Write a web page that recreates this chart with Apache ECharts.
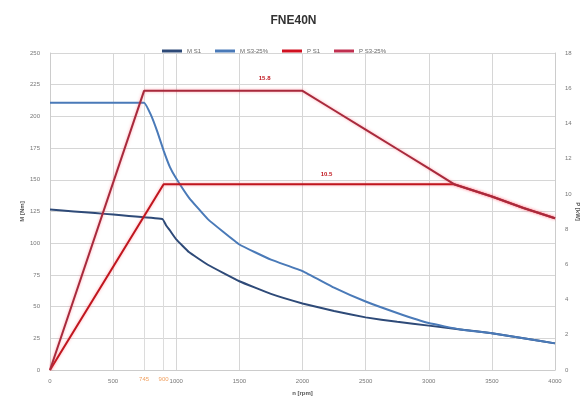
<!DOCTYPE html>
<html><head><meta charset="utf-8">
<script src="https://cdn.jsdelivr.net/npm/echarts@6/dist/echarts.min.js"></script>
<style>html,body{margin:0;padding:0;background:#fff}#c{width:587px;height:403px}</style>
</head><body><div id="c"></div>
<script>
// speeds [rpm] and values
const nMS1 = [0, 890, 920, 950, 1000, 1100, 1250, 1500, 1750, 2000, 2250, 2500, 2750, 3000, 3250, 3500, 3750, 4000];
const vMS1 = [126.5, 119, 114, 110, 103, 93, 83, 70, 60, 52.5, 46.5, 41.5, 38, 35, 32, 29, 25, 21];
const nMS3 = [0, 745, 800, 850, 900, 950, 1000, 1100, 1250, 1500, 1750, 2000, 2250, 2500, 2750, 3000, 3250, 3500, 3750, 4000];
const vMS3 = [210.8, 210.8, 201, 188, 173, 160, 151, 136, 119, 99, 87, 78, 65, 54, 45, 37, 32, 29, 25, 21];
const nPS1 = [0, 900, 3200, 3500, 3750, 4000];
const vPS1 = [0, 10.55, 10.55, 9.85, 9.2, 8.62];
const nPS3 = [0, 745, 2000, 2250, 2500, 2750, 3000, 3200, 3500, 3750, 4000];
const vPS3 = [0, 15.85, 15.85, 14.75, 13.65, 12.55, 11.45, 10.55, 9.85, 9.2, 8.62];
const cornerSpeeds = [745, 900];
const cornerLabels = ['745', '900'];
const maxTorqueLabel = '216';
const maxTorqueLevel = 210.8;
const powerLabels = [{n: 1700, p: 15.85, t: '15.8'}, {n: 2190, p: 10.55, t: '10.5'}];

const zip = (a, b) => a.map((x, i) => [x, b[i]]);
const chart = echarts.init(document.getElementById('c'));
const axisLbl = {color: '#777', fontSize: 6, fontFamily: 'Liberation Sans'};
chart.setOption({
  animation: false,
  title: {text: 'FNE40N', left: 'center', top: 10, textStyle: {fontSize: 12, fontWeight: 'bold', color: '#333', fontFamily: 'Liberation Sans'}},
  legend: {left: 157, top: 43, itemWidth: 20, itemHeight: 3, itemGap: 14, icon: 'rect',
    textStyle: {fontSize: 6, color: '#666', fontFamily: 'Liberation Sans'},
    data: ['M S1', 'M S3-25%', 'P S1', 'P S3-25%']},
  grid: {left: 50, right: 32, top: 53, bottom: 33, containLabel: false, outerBoundsMode: 'none'},
  xAxis: {type: 'value', min: 0, max: 4000, interval: 500, name: 'n [rpm]', nameLocation: 'middle', nameGap: 20,
    nameTextStyle: {fontSize: 6, color: '#555', fontWeight: 'bold'},
    axisLine: {lineStyle: {color: '#ccc'}}, axisTick: {show: false},
    axisLabel: Object.assign({margin: 8, formatter: v => String(v)}, axisLbl),
    splitLine: {lineStyle: {color: '#d6d6d6'}}},
  yAxis: [
    {type: 'value', min: 0, max: 250, interval: 25, name: 'M [Nm]', nameLocation: 'middle', nameGap: 25,
      nameMoveOverlap: false,
      nameTextStyle: {fontSize: 6, color: '#555', fontWeight: 'bold'},
      axisLine: {show: true, lineStyle: {color: '#ccc'}}, axisTick: {show: false},
      axisLabel: Object.assign({margin: 10}, axisLbl),
      splitLine: {lineStyle: {color: '#d6d6d6'}}},
    {type: 'value', min: 0, max: 18, interval: 2, name: 'P [kW]', nameLocation: 'middle', nameGap: 20,
      nameRotate: -90, nameMoveOverlap: false,
      nameTextStyle: {fontSize: 6, color: '#555', fontWeight: 'bold'},
      axisLine: {show: true, lineStyle: {color: '#ccc'}}, axisTick: {show: false},
      axisLabel: Object.assign({margin: 10}, axisLbl),
      splitLine: {show: false}}
  ],
  series: [
    {name: 'M S1', type: 'line', yAxisIndex: 0, data: zip(nMS1, vMS1), showSymbol: false, smooth: 0.1,
      lineStyle: {width: 2, color: '#2e4a78'}, itemStyle: {color: '#2e4a78'},
      markLine: {silent: true, symbol: 'none', z: 1,
        lineStyle: {color: '#dcdcdc', type: 'solid', width: 1},
        label: {show: true, position: 'start', distance: 6, color: '#f0a060', fontSize: 6,
          formatter: p => cornerLabels[cornerSpeeds.indexOf(p.value)]},
        data: cornerSpeeds.map(v => ({xAxis: v}))}},
    {name: 'M S3-25%', type: 'line', yAxisIndex: 0, data: zip(nMS3, vMS3), showSymbol: false, smooth: 0.1,
      lineStyle: {width: 2, color: '#4a7ab8'}, itemStyle: {color: '#4a7ab8'},
      markLine: {silent: true, symbol: 'none', lineStyle: {opacity: 0},
        label: {show: true, position: 'start', distance: 6, color: '#3a4fb0', fontSize: 6, fontWeight: 'bold', formatter: maxTorqueLabel},
        data: [{yAxis: maxTorqueLevel}]}},
    {name: 'P S1', type: 'line', yAxisIndex: 1, data: zip(nPS1, vPS1), showSymbol: false,
      lineStyle: {width: 2, color: '#c0161e', shadowColor: 'rgba(255,80,100,0.5)', shadowBlur: 3}, itemStyle: {color: '#d01020'},
      markPoint: {symbol: 'circle', symbolSize: 0,
        label: {show: true, offset: [0, -10], color: '#c0161e', fontSize: 6, fontWeight: 'bold', formatter: p => p.name},
        data: [{name: powerLabels[1].t, coord: [powerLabels[1].n, powerLabels[1].p]}]}},
    {name: 'P S3-25%', type: 'line', yAxisIndex: 1, data: zip(nPS3, vPS3), showSymbol: false,
      lineStyle: {width: 2, color: '#a82a3c', shadowColor: 'rgba(255,80,100,0.5)', shadowBlur: 3}, itemStyle: {color: '#c03050'},
      markPoint: {symbol: 'circle', symbolSize: 0,
        label: {show: true, offset: [0, -13], color: '#c0161e', fontSize: 6, fontWeight: 'bold', formatter: p => p.name},
        data: [{name: powerLabels[0].t, coord: [powerLabels[0].n, powerLabels[0].p]}]}}
  ]
});
</script></body></html>
